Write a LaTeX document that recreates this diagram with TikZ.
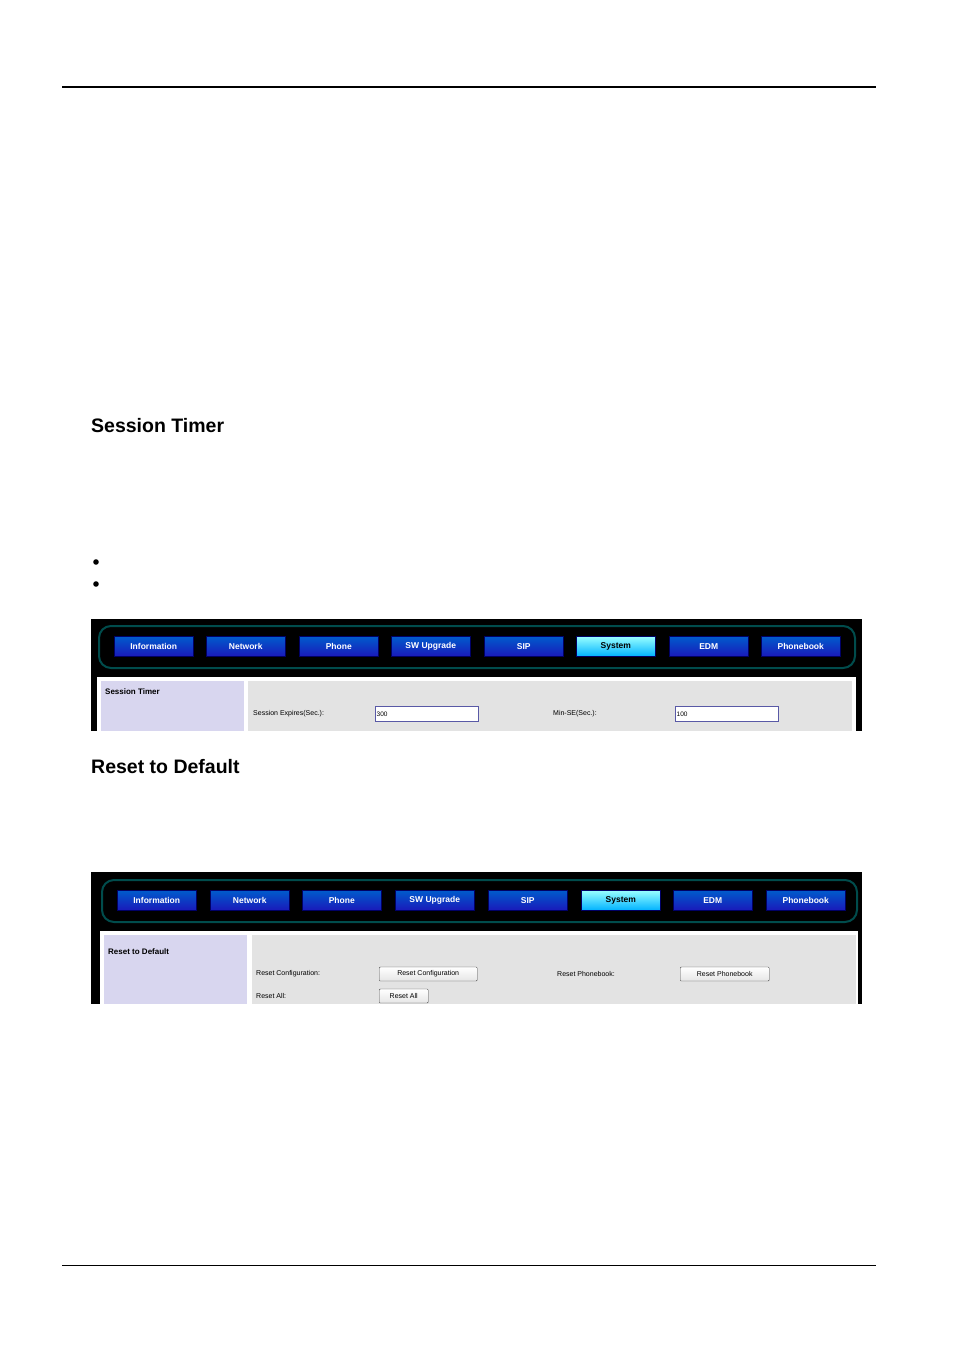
\documentclass[tikz,border=0pt]{standalone}
\usepackage{fontspec}
\setmainfont{Liberation Sans}
\begin{document}
\begin{tikzpicture}[x=1pt,y=-1pt,
  tab/.style={draw=blue!40!black,line width=0.5pt,top color=blue!55!cyan!80!black,bottom color=blue!70!black!90,minimum width=79pt,minimum height=20pt,inner sep=0pt,text=white,font=\fontsize{8.5}{9}\selectfont\bfseries},
  tabsel/.style={tab,top color=cyan!40,bottom color=cyan!70!blue,text=black},
  lbl/.style={anchor=west,inner sep=0pt,font=\fontsize{7}{8}\selectfont},
  ttl/.style={anchor=west,inner sep=0pt,font=\fontsize{8}{9}\selectfont\bfseries},
  inp/.style={draw=gray!70!blue,fill=white,minimum width=103pt,minimum height=15pt,inner sep=1pt,anchor=west,font=\fontsize{6.5}{7}\selectfont,text width=100pt,align=left},
  btn/.style={draw=black!70,rounded corners=1pt,top color=white,bottom color=gray!20,minimum height=14pt,inner sep=2pt,anchor=west,font=\fontsize{7}{8}\selectfont},
  hd/.style={anchor=west,inner sep=0pt,font=\fontsize{19.5}{22}\selectfont\bfseries}]
\useasboundingbox (0,0) rectangle (954,1350);
\draw[line width=1.2pt] (62,87) -- (876,87);
\draw[line width=0.8pt] (62,1265) -- (876,1265);
\node[hd] (h1) at (91,426) {Session Timer};
\node[hd] (h2) at (91,767) {Reset to Default};
\fill (96,562) circle (2.8);
\fill (96,584) circle (2.8);
% screenshot 1
\fill[black] (91,619) rectangle (862,731);
\draw[draw=teal!60!black,line width=2pt,rounded corners=12pt,fill=black] (99,626) rectangle (855,668);
\foreach \x/\t [count=\i] in {114/Information,206/Network,299/Phone,391/SW Upgrade,484/SIP,669/EDM,761/Phonebook}
  \node[tab,anchor=north west] (a\i) at (\x,636) {\t};
\node[tabsel,anchor=north west] (asys) at (576,636) {System};
\fill[white] (97,677) rectangle (856,731);
\fill[cyan!20!blue!15] (101,681) rectangle (244,731);
\fill[gray!22] (248,681) rectangle (852,731);
\node[ttl] (t1) at (105,692) {Session Timer};
\node[lbl] (l1) at (253,714) {Session Expires(Sec.):};
\node[inp] (i1) at (375,714) {300};
\node[lbl] (l2) at (553,714) {Min-SE(Sec.):};
\node[inp] (i2) at (675,714) {100};
% screenshot 2
\fill[black] (91,872) rectangle (862,1004);
\draw[draw=teal!60!black,line width=2pt,rounded corners=12pt,fill=black] (102,880) rectangle (857,922);
\foreach \x/\t [count=\i] in {117/Information,210/Network,302/Phone,395/SW Upgrade,488/SIP,673/EDM,766/Phonebook}
  \node[tab,anchor=north west] (b\i) at (\x,890) {\t};
\node[tabsel,anchor=north west] (bsys) at (581,890) {System};
\fill[white] (100,931) rectangle (858,1004);
\fill[cyan!20!blue!15] (104,935) rectangle (247,1004);
\fill[gray!22] (252,935) rectangle (856,1004);
\node[ttl] (t2) at (108,952) {Reset to Default};
\node[lbl] (m1) at (256,974) {Reset Configuration:};
\node[btn,minimum width=98pt] (c1) at (379,974) {Reset Configuration};
\node[lbl] (m2) at (557,974) {Reset Phonebook:};
\node[btn,minimum width=89pt] (c2) at (680,974) {Reset Phonebook};
\node[lbl] (m3) at (256,996) {Reset All:};
\node[btn,minimum width=49pt] (c3) at (379,996) {Reset All};
\end{tikzpicture}
\end{document}
